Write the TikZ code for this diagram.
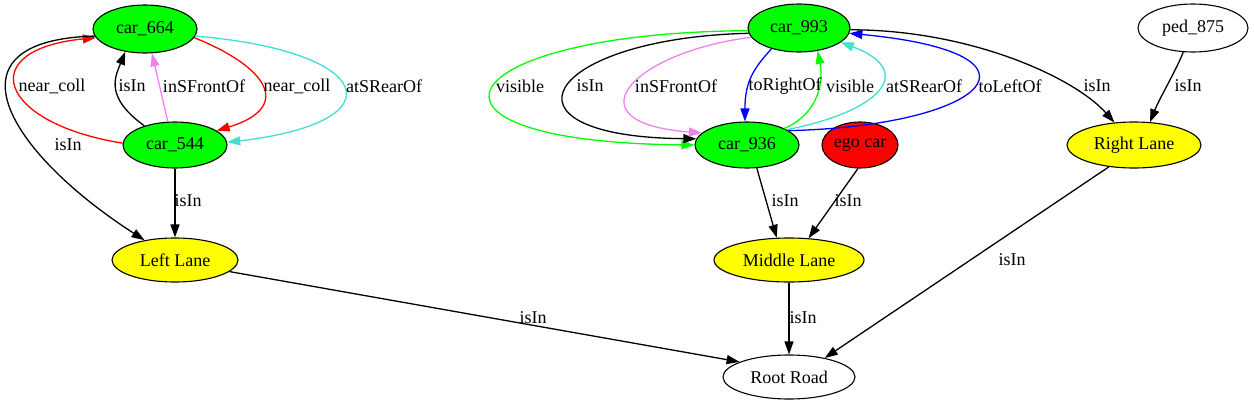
\documentclass[tikz,border=0pt]{standalone}
\usepackage{fontspec}
\setmainfont{Liberation Serif}
\usetikzlibrary{shapes.geometric,arrows.meta}
\definecolor{gvgreen}{RGB}{0,255,0}
\definecolor{gvturq}{RGB}{64,224,208}
\definecolor{gvviolet}{RGB}{238,130,238}
\definecolor{gvyellow}{RGB}{255,255,0}
\definecolor{gvred}{RGB}{255,0,0}
\definecolor{gvblue}{RGB}{0,0,255}
\begin{document}
\begin{tikzpicture}[x=1pt,y=-1pt,
  ent/.style={ellipse, draw=black, line width=1.1pt, inner sep=0pt, font=\fontsize{18}{21}\selectfont},
  lbl/.style={inner sep=0pt, font=\fontsize{18}{21}\selectfont},
  rel/.style={line width=1.3pt, -{Triangle[length=13pt,width=9pt]}},
]
\fill[white] (0,0) rectangle (1254,407);
\useasboundingbox (0,0) rectangle (1254,407);

% nodes
\node[ent, fill=gvgreen, minimum width=104pt, minimum height=48pt] (c664) at (145,29) {car\_664};
\node[ent, fill=gvgreen, minimum width=104pt, minimum height=46pt] (c544) at (175,145) {car\_544};
\node[ent, fill=gvyellow, minimum width=126pt, minimum height=44pt] (ll) at (175,260) {Left Lane};
\node[ent, fill=gvgreen, minimum width=102pt, minimum height=48pt] (c993) at (799,28) {car\_993};
\node[ent, fill=gvgreen, minimum width=104pt, minimum height=46pt] (c936) at (747,145) {car\_936};
\node[ent, fill=gvred, minimum width=76pt, minimum height=46pt] (ego) at (860,145) {ego car};
\node[ent, fill=gvyellow, minimum width=150pt, minimum height=44pt] (ml) at (789,260) {Middle Lane};
\node[ent, fill=white, minimum width=132pt, minimum height=44pt] (root) at (789,377) {Root Road};
\node[ent, fill=white, minimum width=110pt, minimum height=48pt] (ped) at (1193,28) {ped\_875};
\node[ent, fill=gvyellow, minimum width=134pt, minimum height=46pt] (rl) at (1134,145) {Right Lane};

% left cluster edges
\draw[rel, gvred] (c544.178) .. controls +(-125,-20) and +(-122,12) .. (c664.190);
\draw[rel] (c544.148) .. controls +(-40,-29) and +(-10,25) .. (c664.229);
\draw[rel, gvviolet] (c544.107) -- (c664.286);
\draw[rel, gvred] (c664.350) .. controls +(75,30) and +(76,-23) .. (c544.19);
\draw[rel, gvturq] (c664.352) .. controls +(180,15) and +(173,-20) .. (c544.3);
\draw[rel] (c664.188) .. controls +(-154,4) and +(-138,-89) .. (ll.147);
\draw[rel] (c544) -- (ll);
\draw[rel] (ll.348) -- (root.163);

% middle cluster edges
\draw[rel, gvgreen] (c993.183) .. controls +(-300,2) and +(-308,-3) .. (c936.180);
\draw[rel] (c993.186) .. controls +(-205,5) and +(-210,-2) .. (c936.173);
\draw[rel, gvviolet] (c993.191) .. controls +(-120,15) and +(-134,-10) .. (c936.165);
\draw[rel, gvblue] (c993.217) .. controls +(-18,20) and +(0,-40) .. (c936.95);
\draw[rel, gvgreen] (c936.24) .. controls +(35,-15) and +(6,30) .. (c993.309);
\draw[rel, gvturq] (c936.21) .. controls +(100,-20) and +(73,27) .. (c993.341);
\draw[rel, gvblue] (c936.19) .. controls +(200,-5) and +(211,20) .. (c993.354);
\draw[rel] (c993.358) .. controls +(120,0) and +(-40,-45) .. (rl.131);
\draw[rel] (ped.248) .. controls +(-8,20) and +(10,-25) .. (rl.55);
\draw[rel] (c936.293) -- (ml.119);
\draw[rel] (ego.265) -- (ml.48);
\draw[rel] (ml) -- (root);
\draw[rel] (rl.221) -- (root.28);

% labels
\node[lbl] (t1) at (52,86) {near\_coll};
\node[lbl] (t2) at (132,86) {isIn};
\node[lbl] (t3) at (204,86) {inSFrontOf};
\node[lbl] (t4) at (297,86) {near\_coll};
\node[lbl] (t5) at (384,86) {atSRearOf};
\node[lbl] (t6) at (68,145) {isIn};
\node[lbl] (t7) at (188,201) {isIn};
\node[lbl] (t8) at (533,318) {isIn};
\node[lbl] (t9) at (520,86) {visible};
\node[lbl] (t10) at (590,86) {isIn};
\node[lbl] (t11) at (676,86) {inSFrontOf};
\node[lbl] (t12) at (785,86) {toRightOf};
\node[lbl] (t13) at (850,86) {visible};
\node[lbl] (t14) at (924,86) {atSRearOf};
\node[lbl] (t15) at (1010,86) {toLeftOf};
\node[lbl] (t16) at (1097,86) {isIn};
\node[lbl] (t17) at (1188,86) {isIn};
\node[lbl] (t18) at (785,201) {isIn};
\node[lbl] (t19) at (848,201) {isIn};
\node[lbl] (t20) at (803,318) {isIn};
\node[lbl] (t21) at (1012,260) {isIn};
\end{tikzpicture}
\end{document}
